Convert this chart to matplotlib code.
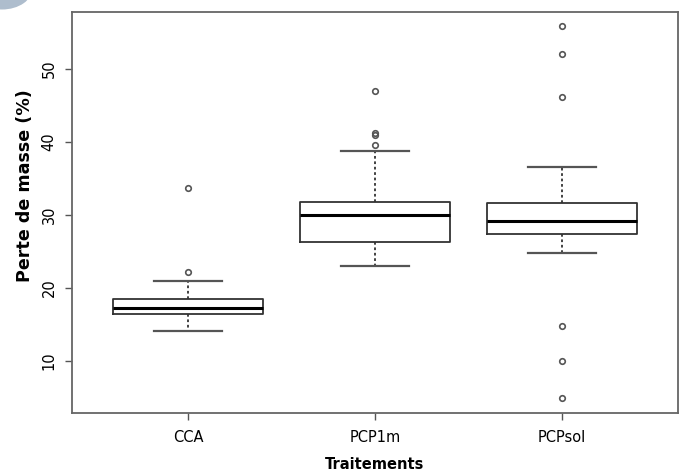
import matplotlib.pyplot as plt
from matplotlib.patches import Circle

# Valeurs (perte de masse, %)
traitements = ['CCA', 'PCP1m', 'PCPsol']
whisker_bas = [14.1, 23.0, 24.8]
q1 = [16.4, 26.3, 27.3]
mediane = [17.2, 29.95, 29.2]
q3 = [18.5, 31.7, 31.6]
whisker_haut = [20.9, 38.8, 36.6]
outliers_cca = [22.2, 33.6]
outliers_pcp1m = [39.6, 40.9, 41.2, 47.0]
outliers_pcpsol = [55.9, 52.1, 46.2, 14.8, 10.0, 4.8]
outliers = [outliers_cca, outliers_pcp1m, outliers_pcpsol]

plt.rcParams['font.family'] = 'DejaVu Sans'

fig = plt.figure(figsize=(6.79, 4.75), dpi=100)
ax = fig.add_axes([0.106, 0.1305, 0.8925, 0.8442])

stats = []
for i, nom in enumerate(traitements):
    stats.append({
        'label': nom,
        'whislo': whisker_bas[i],
        'q1': q1[i],
        'med': mediane[i],
        'q3': q3[i],
        'whishi': whisker_haut[i],
        'fliers': outliers[i],
    })

ax.bxp(stats, positions=[1, 2, 3], widths=0.8, capwidths=0.36,
       boxprops=dict(color='#333333', linewidth=1.3),
       medianprops=dict(color='black', linewidth=2.2),
       whiskerprops=dict(color='#333333', linewidth=1.3, linestyle=(0, (1.5, 1.5))),
       capprops=dict(color='#555555', linewidth=1.6),
       flierprops=dict(marker='o', markersize=4, markerfacecolor='none',
                       markeredgecolor='#555555', markeredgewidth=1.2))

ax.set_xlim(0.38, 3.62)
ax.set_ylim(2.8, 57.8)
ax.set_yticks([10, 20, 30, 40, 50])
ax.set_xticks([1, 2, 3])
ax.set_xticklabels(traitements)
ax.tick_params(axis='y', labelrotation=90, length=5, width=1, color='#555555',
               labelsize=10.5, pad=6)
ax.tick_params(axis='x', length=5, width=1, color='#555555', labelsize=10.5, pad=7)
for lbl in ax.get_yticklabels():
    lbl.set_va('center')

for sp in ax.spines.values():
    sp.set_color('#666666')
    sp.set_linewidth(1.3)

ax.set_xlabel('Traitements', fontsize=10.5, fontweight='bold', labelpad=9)
ax.set_ylabel('Perte de masse (%)', fontsize=12.6, fontweight='bold')
ax.yaxis.set_label_coords(-0.062, 0.566)

# coin décoratif en haut à gauche
fig.patches.append(Circle((0.003, 1.025), 0.045, transform=fig.transFigure,
                          facecolor='#aebdcd', edgecolor='none'))

fig.savefig('out.png', dpi=100)
